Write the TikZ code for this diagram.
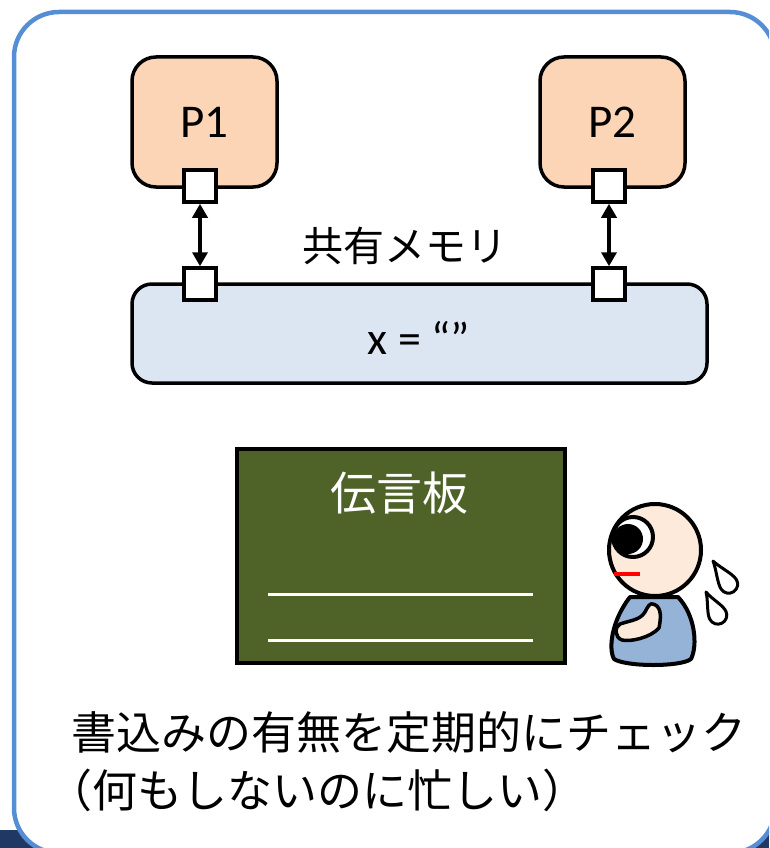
\documentclass[tikz,border=0pt]{standalone}
\usepackage{fontspec}
\setmainfont{Carlito}
\newfontfamily\jp{Noto Sans CJK JP}
\usetikzlibrary{arrows.meta}
\definecolor{framebl}{HTML}{558ED5}
\definecolor{navyband}{HTML}{203864}
\definecolor{procfill}{HTML}{FBD5B5}
\definecolor{memfill}{HTML}{DCE6F2}
\definecolor{boardgreen}{HTML}{4F6228}
\definecolor{skin}{HTML}{FDEADA}
\definecolor{shirt}{HTML}{95B3D7}
\begin{document}
\begin{tikzpicture}[x=1pt,y=-1pt,
  proc/.style={draw=black, line width=3.5pt, fill=procfill, rounded corners=24pt,
    minimum width=145pt, minimum height=130pt, font=\fontsize{47}{49}\selectfont},
  port/.style={draw=black, line width=3.5pt, fill=white, minimum size=32pt, inner sep=0pt},
  memory/.style={draw=black, line width=3.5pt, fill=memfill, rounded corners=20pt,
    minimum width=575pt, minimum height=99pt},
  link/.style={line width=3.5pt, {Triangle[width=15pt,length=14pt]}-{Triangle[width=15pt,length=14pt]}},
  outline/.style={draw=black, line width=4pt, line join=round},
  drop/.style={draw=black, line width=3pt, fill=white, line join=round},
  caption/.style={anchor=west, font=\jp\fontsize{45}{47}\selectfont, inner sep=0pt}]
\useasboundingbox (0,0) rectangle (769,848);
% slide background band and rounded frame
\fill[navyband] (0,830) rectangle (769,848);
\begin{scope}
\clip (0,0) rectangle (769,848);
\draw[framebl, line width=4.5pt, fill=white, rounded corners=45pt] (14,12) rectangle (775,853);
\end{scope}

% processes and shared memory
\node[proc] (p1) at (204.5,122) {P1};
\node[proc] (p2) at (612.5,122) {P2};
\node[memory] (mem) at (419.5,333.5) {};
\node[font=\fontsize{46}{48}\selectfont] (val) at (419,338) {x = “”};
\node[font=\jp\fontsize{41}{43}\selectfont] (memlabel) at (405,246) {共有メモリ};

\node[port] (p1out) at (200,186) {};
\node[port] (p2out) at (609,186) {};
\node[port] (m1) at (200,284) {};
\node[port] (m2) at (609,284) {};
\draw[link] (p1out) -- (m1);
\draw[link] (p2out) -- (m2);

% message board
\node[draw=black, line width=4.5pt, fill=boardgreen, minimum width=328pt, minimum height=214pt] (board) at (401,556) {};
\node[text=white, font=\jp\fontsize{46}{48}\selectfont] (boardtitle) at (399,493) {伝言板};
\coordinate (l1a) at (268,594); \coordinate (l1b) at (533,594);
\coordinate (l2a) at (268,640); \coordinate (l2b) at (533,640);
\draw[white, line width=3pt] (l1a) -- (l1b);
\draw[white, line width=3pt] (l2a) -- (l2b);

% person waiting
\draw[outline, fill=shirt] (630,597) .. controls (612,620) and (608,648) .. (614,659)
  .. controls (626,667) and (681,667) .. (691,659)
  .. controls (698,645) and (695,615) .. (678,597) -- cycle;
\draw[outline, line width=3.5pt, fill=skin] (653,604) .. controls (660,606) and (662,613) .. (659,628)
  .. controls (650,638) and (630,642) .. (622,640)
  .. controls (615,638) and (614,627) .. (620,624)
  .. controls (632,620) and (640,620) .. (645,612)
  .. controls (648,606) and (650,603) .. (653,604) -- cycle;
\draw[outline, fill=skin] (655,550) circle[radius=46];
\draw[outline, fill=white] (633,537) circle[radius=20];
\fill[black] (628,539) circle[radius=15];
\draw[red, line width=4pt] (614,574) -- (640,574);
% sweat drops
\begin{scope}[shift={(713,561)}, rotate=34]
  \draw[drop] (0,0) .. controls (2,9) and (9,21) .. (9,28) arc[start angle=0, end angle=180, radius=9] .. controls (-9,21) and (-2,9) .. cycle;
\end{scope}
\begin{scope}[shift={(706,592)}, rotate=27]
  \draw[drop] (0,0) .. controls (2,9) and (9,19) .. (9,26) arc[start angle=0, end angle=180, radius=9] .. controls (-9,19) and (-2,9) .. cycle;
\end{scope}

% caption
\node[caption] (cap1) at (71,732) {書込みの有無を定期的にチェック};
\node[caption] (cap2) at (47,790) {（何もしないのに忙しい）};
\end{tikzpicture}
\end{document}
